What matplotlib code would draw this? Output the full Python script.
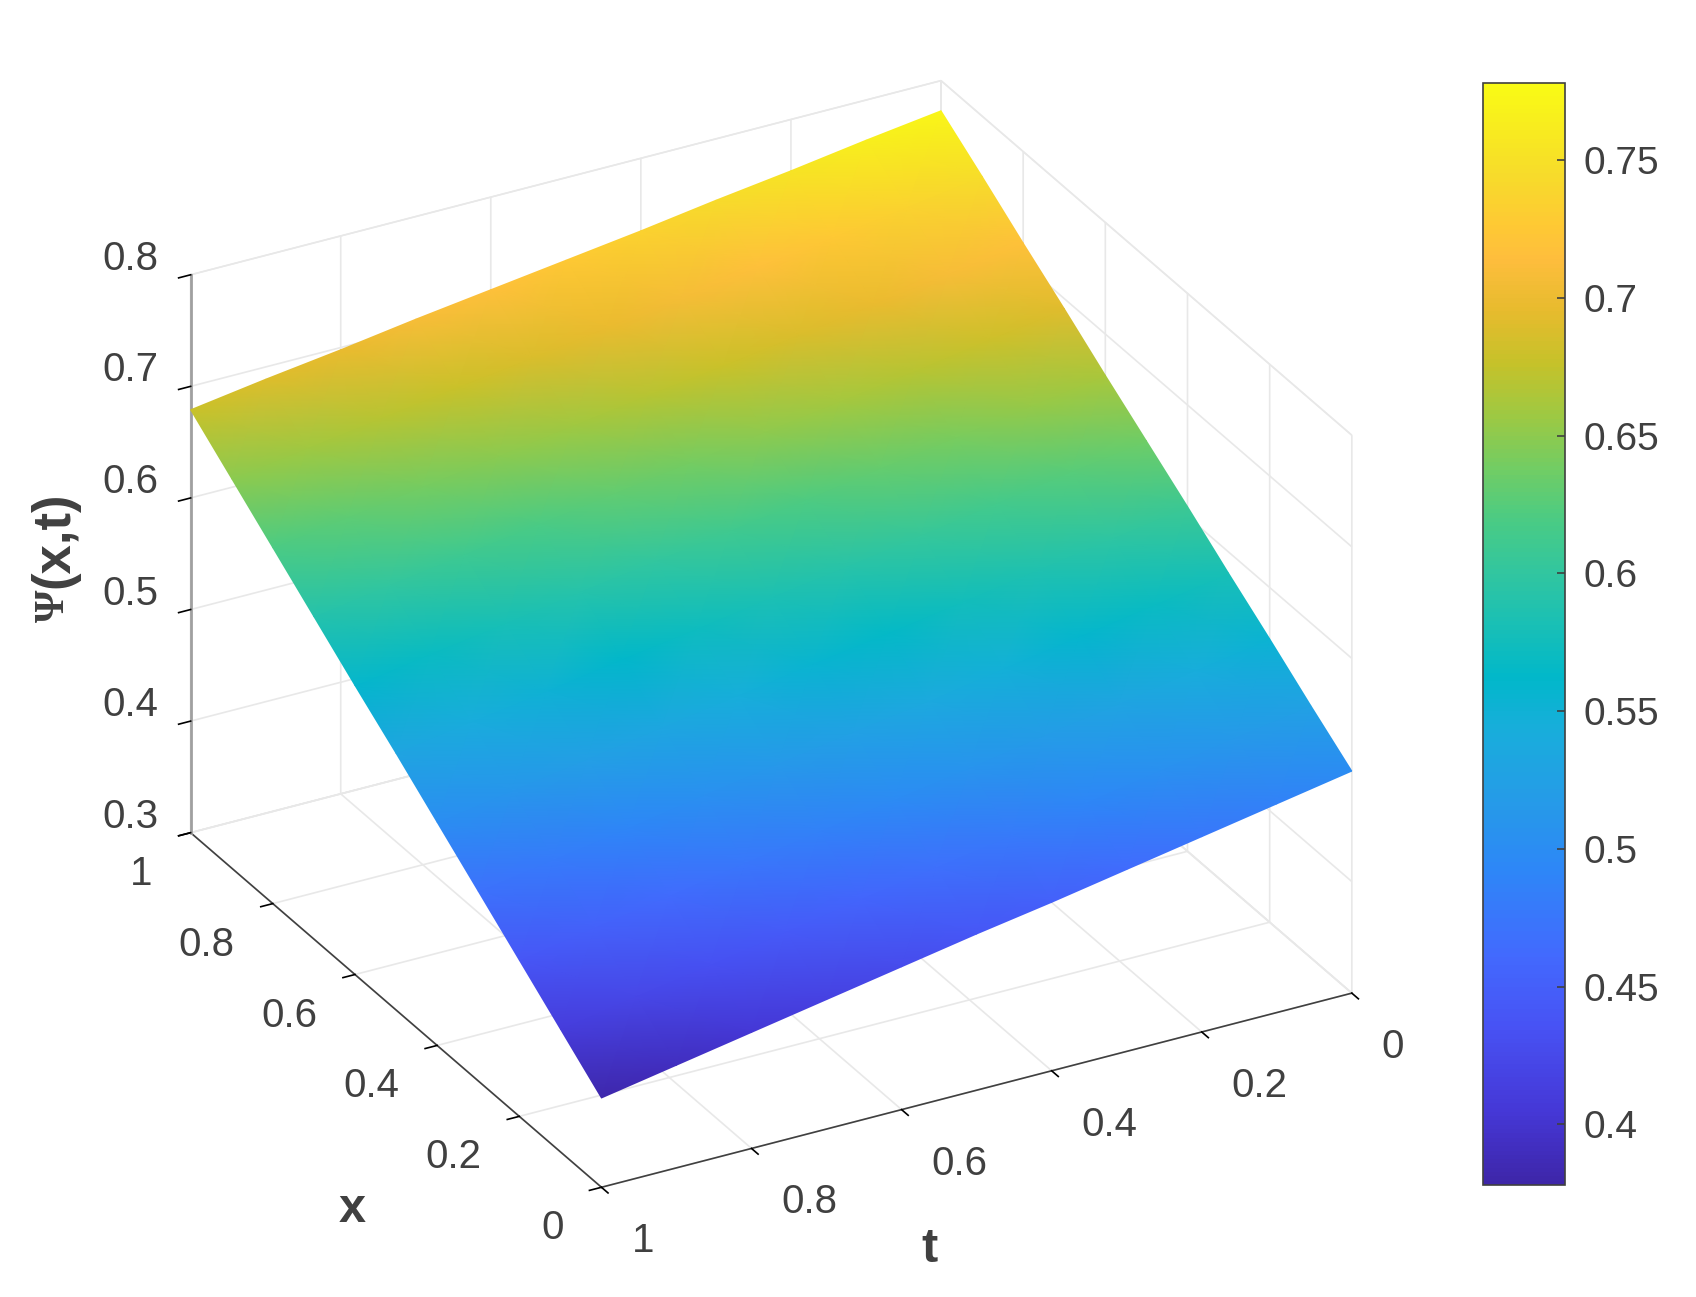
import numpy as np
import matplotlib
matplotlib.use("Agg")
import matplotlib.pyplot as plt
from matplotlib.colors import LinearSegmentedColormap
from mpl_toolkits.mplot3d import proj3d

plt.rcParams['font.family'] = ['Liberation Sans', 'DejaVu Sans']

# values
t_vals = [0, 0.1, 0.2, 0.3, 0.4, 0.5, 0.6, 0.7, 0.8, 0.9, 1]
x_vals = [0, 0.1, 0.2, 0.3, 0.4, 0.5, 0.6, 0.7, 0.8, 0.9, 1]
psi_t00 = [.499, .526, .554, .581, .609, .636, .663, .691, .718, .746, .773]
psi_t01 = [.487, .515, .543, .570, .598, .626, .653, .681, .708, .736, .764]
psi_t02 = [.475, .503, .531, .559, .587, .615, .642, .670, .698, .726, .754]
psi_t03 = [.463, .491, .520, .548, .576, .604, .632, .660, .688, .717, .745]
psi_t04 = [.451, .479, .508, .536, .565, .593, .621, .650, .678, .707, .735]
psi_t05 = [.440, .468, .497, .526, .555, .583, .611, .640, .669, .698, .726]
psi_t06 = [.428, .457, .486, .515, .544, .572, .601, .630, .659, .688, .717]
psi_t07 = [.416, .445, .475, .504, .533, .562, .591, .620, .649, .679, .708]
psi_t08 = [.404, .433, .463, .492, .522, .551, .580, .610, .639, .669, .698]
psi_t09 = [.392, .422, .452, .481, .511, .541, .570, .600, .629, .659, .689]
psi_t10 = [.380, .410, .440, .470, .500, .530, .559, .589, .619, .649, .679]
psi = np.array([psi_t00, psi_t01, psi_t02, psi_t03, psi_t04, psi_t05,
                psi_t06, psi_t07, psi_t08, psi_t09, psi_t10])

x_ticks = [0, 0.2, 0.4, 0.6, 0.8, 1]
t_ticks = [0, 0.2, 0.4, 0.6, 0.8, 1]
z_ticks = [0.3, 0.4, 0.5, 0.6, 0.7, 0.8]
cbar_ticks = [0.4, 0.45, 0.5, 0.55, 0.6, 0.65, 0.7, 0.75]
cbar_labels = ['0.4', '0.45', '0.5', '0.55', '0.6', '0.65', '0.7', '0.75']

parula_colors = [
    (0.2422, 0.1504, 0.6603), (0.2706, 0.2147, 0.8364), (0.2810, 0.3228, 0.9579),
    (0.2602, 0.4123, 0.9952), (0.1786, 0.5289, 0.9682), (0.1460, 0.6091, 0.9079),
    (0.0952, 0.6798, 0.8598), (0.0036, 0.7203, 0.7917), (0.0964, 0.7500, 0.7120),
    (0.1938, 0.7758, 0.6251), (0.2906, 0.7973, 0.5188), (0.4456, 0.8024, 0.3909),
    (0.6174, 0.7876, 0.2612), (0.7738, 0.7598, 0.1646), (0.9035, 0.7330, 0.1774),
    (0.9956, 0.7434, 0.2371), (0.9952, 0.7893, 0.2028), (0.9676, 0.8639, 0.1643),
    (0.9769, 0.9839, 0.0805),
]
parula_stops = [0, 4, 9, 13, 18, 22, 26, 29, 32, 35, 38, 41, 44, 47, 50, 53, 55, 58, 63]
parula = LinearSegmentedColormap.from_list(
    'parula', [(s / 63, c) for s, c in zip(parula_stops, parula_colors)])

W, H = 1696, 1297
dark = '#404040'
fig = plt.figure(figsize=(W / 100, H / 100), dpi=100)

ax = fig.add_axes([0.0044, -0.0023, 0.88, 1.0], projection='3d')
ax.set_proj_type('ortho')
ax.view_init(elev=28.2, azim=151.3)
ax.set_box_aspect((1, 1, 0.74), zoom=1.022)
ax.set_xlim(0, 1, view_margin=0)
ax.set_ylim(0, 1, view_margin=0)
ax.set_zlim(0.3, 0.8, view_margin=0)
ax.set_xticks(x_ticks)
ax.set_yticks(t_ticks)
ax.set_zticks(z_ticks)
ax.set_xticklabels([])
ax.set_yticklabels([])
ax.set_zticklabels([])
ax.zaxis.set_ticks_position('upper')
for a in (ax.xaxis, ax.yaxis, ax.zaxis):
    a.set_pane_color((1, 1, 1, 1))
    a.pane.set_edgecolor('#e8e8e8')
    a.line.set_color(dark)
    a.line.set_linewidth(1.2)
    a._axinfo['grid']['color'] = '#e8e8e8'
    a._axinfo['grid']['linewidth'] = 1.2
    a._axinfo['tick']['color'] = dark
    a._axinfo['tick']['linewidth'] = {True: 1.2, False: 1.2}
    a._axinfo['tick']['inward_factor'] = 0.2
    a._axinfo['tick']['outward_factor'] = 0
ax.zaxis.line.set_color('#a0a0a0')
ax.zaxis.line.set_linewidth(2)

fig.canvas.draw()


def to_px(x, t, z):
    # 3d point -> figure pixels (y down) through the axes' own projection
    shape = np.shape(x)
    x, t, z = [np.ravel(np.asarray(v, dtype=float)) for v in (x, t, z)]
    px, py, _ = proj3d.proj_transform(x, t, z, ax.get_proj())
    pts = ax.transData.transform(np.column_stack([px, py]))
    return pts[:, 0].reshape(shape), H - pts[:, 1].reshape(shape)


# overlay in image pixels, surface is drawn here so the colours stay smooth
over = fig.add_axes([0, 0, 1, 1], facecolor='none')
over.set_xlim(0, W)
over.set_ylim(H, 0)
over.axis('off')

X, T = np.meshgrid(x_vals, t_vals)
sx, sy = to_px(X, T, psi)
mesh = over.pcolormesh(sx, sy, psi, cmap=parula, vmin=0.378, vmax=0.778, shading='gouraud')

tick_font = 29
for v in x_ticks:
    px, py = to_px(v, 1, 0.3)
    over.text(px - 38, py + 41, f'{v:g}', ha='right', va='center', fontsize=tick_font, color=dark)
for v in t_ticks:
    px, py = to_px(0, v, 0.3)
    over.text(px + 30, py + 54, f'{v:g}', ha='left', va='center', fontsize=tick_font, color=dark)
for v in z_ticks:
    px, py = to_px(1, 1, v)
    over.text(px - 32, py - 16, f'{v:g}', ha='right', va='center', fontsize=tick_font, color=dark)

over.text(352, 1210, 'x', ha='center', va='center', fontsize=35, fontweight='bold', color=dark)
over.text(930, 1250, 't', ha='center', va='center', fontsize=35, fontweight='bold', color=dark)
over.text(54, 588, '(x,t)', ha='center', va='bottom', rotation=90, fontsize=38, fontweight='bold', color=dark)
over.text(54, 590, '\u03a8', ha='center', va='top', rotation=90, fontsize=30, fontweight='bold',
          family='Liberation Serif', color=dark)

cax = fig.add_axes([1483 / W, 1 - 1185 / H, 82 / W, 1102 / H])
cb = fig.colorbar(mesh, cax=cax)
cb.set_ticks(cbar_ticks)
cb.set_ticklabels(cbar_labels)
cb.ax.tick_params(direction='in', length=6, width=1.2, color=dark, labelsize=tick_font - 1, labelcolor=dark, pad=13)
cb.outline.set_edgecolor(dark)
cb.outline.set_linewidth(1.2)

fig.savefig('out.png', dpi=100)
